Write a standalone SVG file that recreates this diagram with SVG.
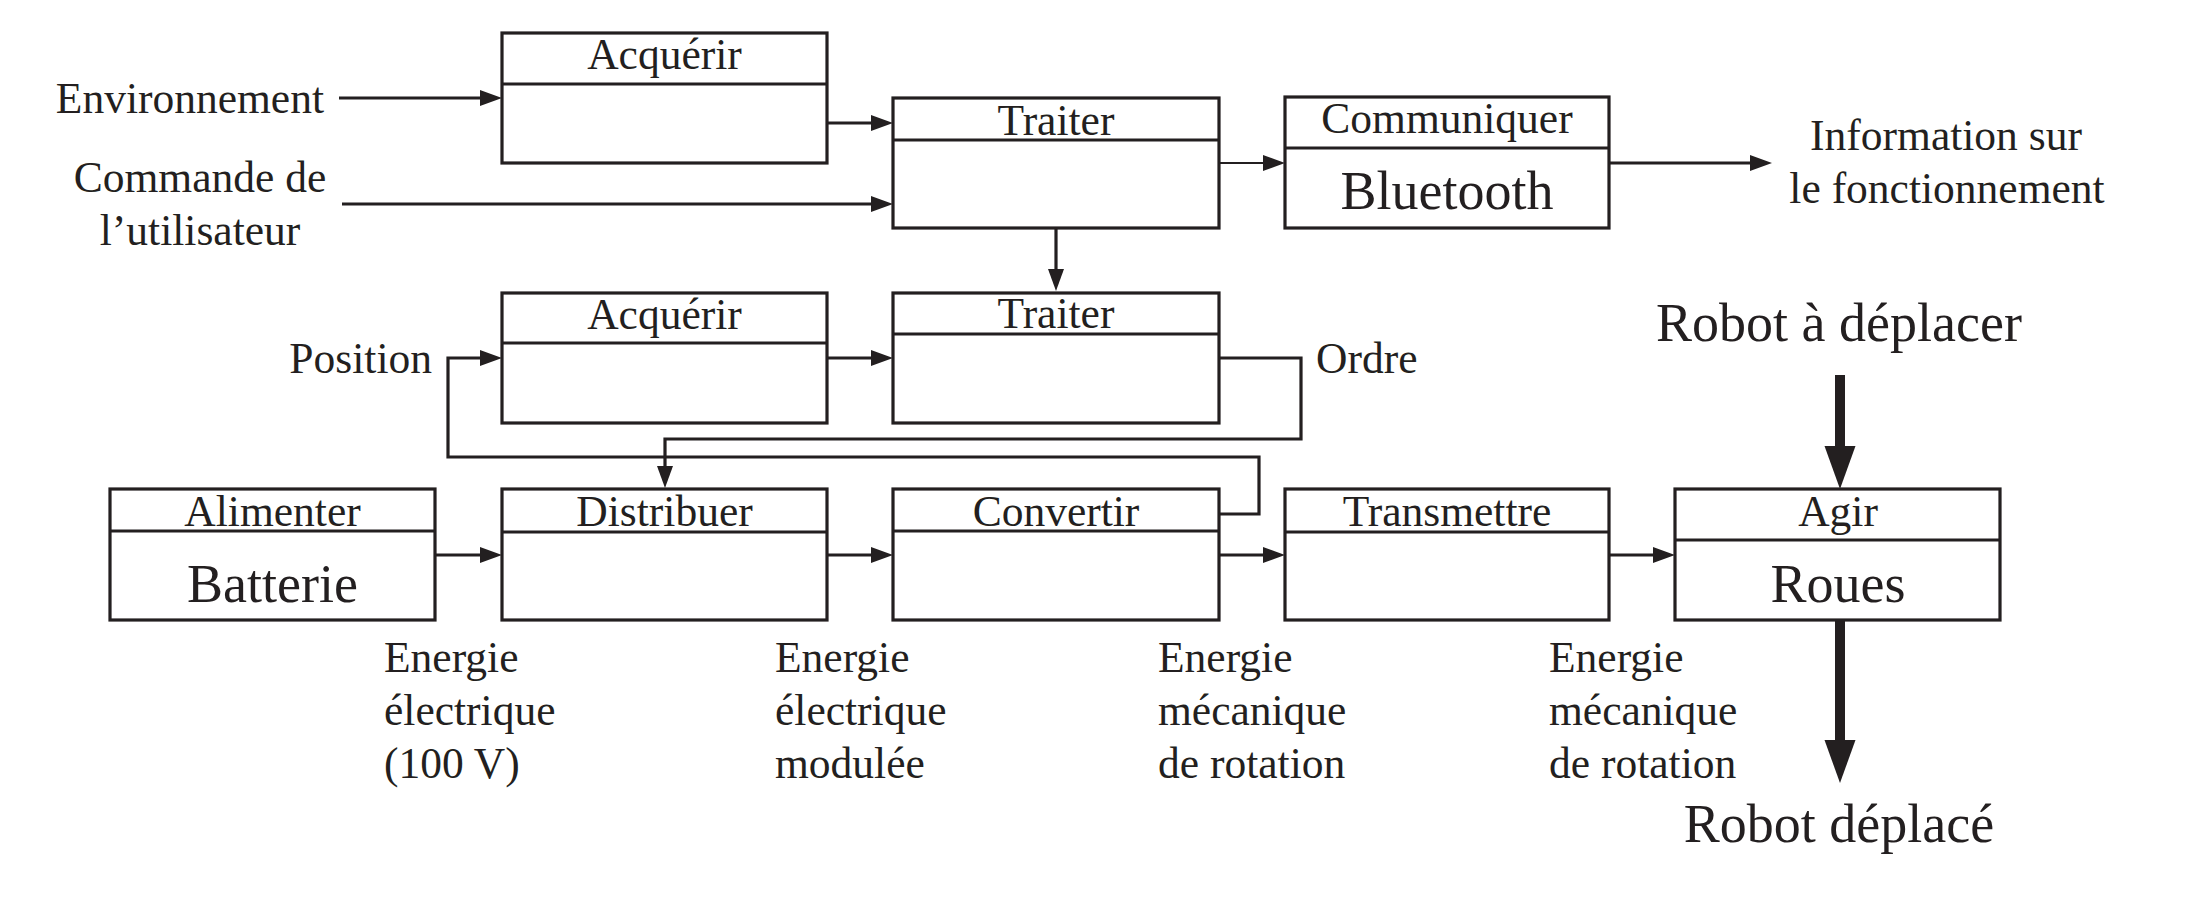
<svg xmlns="http://www.w3.org/2000/svg" width="2204" height="922" viewBox="0 0 2204 922">
<defs>
<style>
.box{fill:#fff;stroke:#231f20;stroke-width:3.2}
.div{stroke:#231f20;stroke-width:3.2}
.t{font-family:"Liberation Serif","Times New Roman",serif;font-size:43.5px;fill:#231f20}
.big{font-size:54px}
.c{text-anchor:middle}
.e{text-anchor:end}
.ln{fill:none;stroke:#231f20;stroke-width:3.2;stroke-linejoin:miter}
.thin{stroke-width:2.2}
.thick{stroke-width:10}
</style>
<marker id="a" markerUnits="userSpaceOnUse" markerWidth="22" markerHeight="16" refX="12" refY="8" orient="auto" overflow="visible">
<path d="M0,0 L22,8 L0,16 z" fill="#231f20"/>
</marker>
<marker id="b" markerUnits="userSpaceOnUse" markerWidth="43" markerHeight="31" refX="20" refY="15.5" orient="auto" overflow="visible">
<path d="M0,0 L43,15.5 L0,31 z" fill="#231f20"/>
</marker>
</defs>
<rect width="2204" height="922" fill="#fff"/>

<g id="connectors">
<path class="ln" d="M339,98 H492" marker-end="url(#a)"/>
<path class="ln" d="M342,204 H883" marker-end="url(#a)"/>
<path class="ln" d="M827,123 H883" marker-end="url(#a)"/>
<path class="ln thin" d="M1219,163 H1275" marker-end="url(#a)"/>
<path class="ln" d="M1609,163 H1762" marker-end="url(#a)"/>
<path class="ln" d="M1056,228 V281" marker-end="url(#a)"/>
<path class="ln" d="M827,358 H883" marker-end="url(#a)"/>
<path class="ln" d="M1219,358 H1301 V439 H665 V478" marker-end="url(#a)"/>
<path class="ln" d="M1219,514 H1259 V457 H448 V358 H492" marker-end="url(#a)"/>
<path class="ln" d="M435,555 H492" marker-end="url(#a)"/>
<path class="ln" d="M827,555 H883" marker-end="url(#a)"/>
<path class="ln" d="M1219,555 H1275" marker-end="url(#a)"/>
<path class="ln" d="M1609,555 H1665" marker-end="url(#a)"/>
<path class="ln thick" d="M1840,375 V466" marker-end="url(#b)"/>
<path class="ln thick" d="M1840,620 V760" marker-end="url(#b)"/>
</g>

<g id="acquerir1">
<rect class="box" x="502" y="33" width="325" height="130"/>
<line class="div" x1="502" y1="84" x2="827" y2="84"/>
<text class="t c" x="664.5" y="69">Acquérir</text>
</g>
<g id="traiter1">
<rect class="box" x="893" y="98" width="326" height="130"/>
<line class="div" x1="893" y1="140" x2="1219" y2="140"/>
<text class="t c" x="1056" y="135">Traiter</text>
</g>
<g id="communiquer">
<rect class="box" x="1285" y="97" width="324" height="131"/>
<line class="div" x1="1285" y1="148" x2="1609" y2="148"/>
<text class="t c" x="1447" y="133">Communiquer</text>
<text class="t big c" x="1447" y="209">Bluetooth</text>
</g>
<g id="acquerir2">
<rect class="box" x="502" y="293" width="325" height="130"/>
<line class="div" x1="502" y1="343" x2="827" y2="343"/>
<text class="t c" x="664.5" y="329">Acquérir</text>
</g>
<g id="traiter2">
<rect class="box" x="893" y="293" width="326" height="130"/>
<line class="div" x1="893" y1="334" x2="1219" y2="334"/>
<text class="t c" x="1056" y="328">Traiter</text>
</g>
<g id="alimenter">
<rect class="box" x="110" y="489" width="325" height="131"/>
<line class="div" x1="110" y1="531" x2="435" y2="531"/>
<text class="t c" x="272.5" y="526">Alimenter</text>
<text class="t big c" x="272.5" y="602">Batterie</text>
</g>
<g id="distribuer">
<rect class="box" x="502" y="489" width="325" height="131"/>
<line class="div" x1="502" y1="532" x2="827" y2="532"/>
<text class="t c" x="664.5" y="526">Distribuer</text>
</g>
<g id="convertir">
<rect class="box" x="893" y="489" width="326" height="131"/>
<line class="div" x1="893" y1="531" x2="1219" y2="531"/>
<text class="t c" x="1056" y="526">Convertir</text>
</g>
<g id="transmettre">
<rect class="box" x="1285" y="489" width="324" height="131"/>
<line class="div" x1="1285" y1="532" x2="1609" y2="532"/>
<text class="t c" x="1447" y="526">Transmettre</text>
</g>
<g id="agir">
<rect class="box" x="1675" y="489" width="325" height="131"/>
<line class="div" x1="1675" y1="540" x2="2000" y2="540"/>
<text class="t c" x="1838" y="526">Agir</text>
<text class="t big c" x="1838" y="602">Roues</text>
</g>

<g id="labels">
<text class="t e" x="324" y="113">Environnement</text>
<text class="t c" x="200" y="192">Commande de</text>
<text class="t c" x="200" y="245">l’utilisateur</text>
<text class="t c" x="1946" y="150">Information sur</text>
<text class="t c" x="1947" y="203">le fonctionnement</text>
<text class="t e" x="432" y="373">Position</text>
<text class="t" x="1316" y="373">Ordre</text>
<text class="t big c" x="1839" y="341">Robot à déplacer</text>
<text class="t big c" x="1839" y="842">Robot déplacé</text>
<text class="t" x="384" y="672">Energie</text>
<text class="t" x="384" y="725">électrique</text>
<text class="t" x="384" y="778">(100 V)</text>
<text class="t" x="775" y="672">Energie</text>
<text class="t" x="775" y="725">électrique</text>
<text class="t" x="775" y="778">modulée</text>
<text class="t" x="1158" y="672">Energie</text>
<text class="t" x="1158" y="725">mécanique</text>
<text class="t" x="1158" y="778">de rotation</text>
<text class="t" x="1549" y="672">Energie</text>
<text class="t" x="1549" y="725">mécanique</text>
<text class="t" x="1549" y="778">de rotation</text>
</g>
</svg>
